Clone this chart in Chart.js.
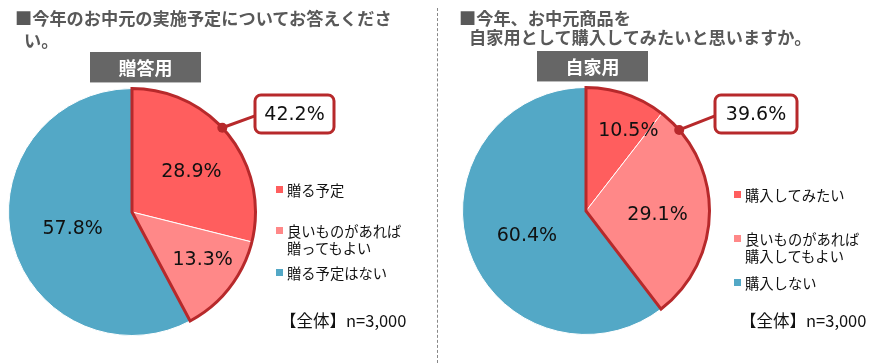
<!DOCTYPE html>
<html><head><meta charset="utf-8">
<script src="https://cdn.jsdelivr.net/npm/chart.js@4"></script>
<style>
html,body{margin:0;padding:0;background:#fff;}
#wrap{position:relative;width:876px;height:363px;overflow:hidden;font-family:"Noto Sans CJK JP",sans-serif;}
canvas{position:absolute;top:0;}
.t{position:absolute;white-space:nowrap;}
.title{font-weight:bold;font-size:17.2px;color:#595959;line-height:21px;}
.tag{position:absolute;background:#666;color:#fff;font-weight:bold;font-size:18px;text-align:center;line-height:30px;height:30px;box-shadow:0 1px 0 #bbb;}
.leg{position:absolute;font-size:14.3px;line-height:17px;color:#111;white-space:nowrap;}
.sq{position:absolute;width:7px;height:7px;}
.n{position:absolute;font-size:16.5px;color:#111;white-space:nowrap;line-height:20px;}
#div{position:absolute;left:437px;top:8px;height:355px;border-left:1.5px dashed #888;}
</style></head>
<body><div id="wrap">
<canvas id="c1" width="437" height="363" style="left:0"></canvas>
<canvas id="c2" width="439" height="363" style="left:437px"></canvas>
<div id="div"></div>
<div class="t title" style="left:15px;top:7px">■今年のお中元の実施予定についてお答えくださ</div>
<div class="t title" style="left:24px;top:29px">い。</div>
<div class="t title" style="left:459px;top:7px">■今年、お中元商品を</div>
<div class="t title" style="left:469px;top:26px">自家用として購入してみたいと思いますか。</div>
<div class="tag" style="left:90px;top:52px;width:111px">贈答用</div>
<div class="tag" style="left:537px;top:51px;width:111px">自家用</div>
<div id="legends"></div>
<div class="n" style="left:280px;top:310px">【全体】n=3,000</div>
<div class="n" style="left:740px;top:310px">【全体】n=3,000</div>
</div>
<script>
// ---- data ----
const giftCategories = ["贈る予定", "良いものがあれば\n贈ってもよい", "贈る予定はない"];
const giftValues = [28.9, 13.3, 57.8];
const homeCategories = ["購入してみたい", "良いものがあれば\n購入してもよい", "購入しない"];
const homeValues = [10.5, 29.1, 60.4];
const sliceColors = ["#FF5E5E", "#FF8888", "#53A8C6"];
const outlineColor = "#B7292B";

// ---- legends (HTML) ----
function buildLegend(cats, x, ys) {
  const host = document.getElementById('legends');
  cats.forEach((c, i) => {
    const sq = document.createElement('div');
    sq.className = 'sq';
    sq.style.left = x + 'px';
    sq.style.top = (ys[i] + 5) + 'px';
    sq.style.background = sliceColors[i];
    host.appendChild(sq);
    const t = document.createElement('div');
    t.className = 'leg';
    t.style.left = (x + 11) + 'px';
    t.style.top = ys[i] + 'px';
    t.innerHTML = c.split('\n').join('<br>');
    host.appendChild(t);
  });
}
buildLegend(giftCategories, 276, [181, 222, 264]);
buildLegend(homeCategories, 734, [186, 230, 274]);

// ---- plugin: group outline, slice labels, callout ----
const pieDecor = {
  id: 'pieDecor',
  afterDatasetsDraw(chart, args, opts) {
    const ctx = chart.ctx;
    const meta = chart.getDatasetMeta(0);
    const vals = chart.data.datasets[0].data;
    const arcs = meta.data.map(a => a.getProps(['x', 'y', 'startAngle', 'endAngle', 'outerRadius'], true));
    const cx = arcs[0].x, cy = arcs[0].y, R = arcs[0].outerRadius;
    ctx.save();
    ctx.beginPath();
    ctx.moveTo(cx, cy);
    ctx.arc(cx, cy, R, arcs[0].startAngle, arcs[1].endAngle);
    ctx.closePath();
    ctx.lineWidth = 3;
    ctx.lineJoin = 'miter';
    ctx.strokeStyle = outlineColor;
    ctx.stroke();
    ctx.fillStyle = '#111';
    ctx.font = '19px "DejaVu Sans", sans-serif';
    ctx.textAlign = 'center';
    ctx.textBaseline = 'middle';
    arcs.forEach((a, i) => {
      const p = opts.labels[i];
      const ang = (p.deg - 90) * Math.PI / 180;
      ctx.fillText(vals[i].toFixed(1) + '%', cx + Math.cos(ang) * R * p.r, cy + Math.sin(ang) * R * p.r);
    });
    const dAng = (opts.dotDeg - 90) * Math.PI / 180;
    const dx = cx + Math.cos(dAng) * R, dy = cy + Math.sin(dAng) * R;
    const b = opts.box;
    ctx.beginPath();
    ctx.moveTo(dx, dy);
    ctx.lineTo(b.x, b.y + b.h * 0.55);
    ctx.lineWidth = 3;
    ctx.stroke();
    ctx.beginPath();
    ctx.arc(dx, dy, 5, 0, Math.PI * 2);
    ctx.fillStyle = outlineColor;
    ctx.fill();
    ctx.beginPath();
    ctx.roundRect(b.x, b.y, b.w, b.h, 6);
    ctx.fillStyle = '#fff';
    ctx.fill();
    ctx.lineWidth = 3;
    ctx.stroke();
    ctx.fillStyle = '#111';
    ctx.font = '19px "DejaVu Sans", sans-serif';
    ctx.fillText((vals[0] + vals[1]).toFixed(1) + '%', b.x + b.w / 2, b.y + b.h / 2 + 1);
    ctx.restore();
  }
};

function makePie(id, values, padding, decor) {
  return new Chart(document.getElementById(id), {
    type: 'pie',
    data: {
      labels: values.map((v, i) => i),
      datasets: [{
        data: values,
        backgroundColor: sliceColors,
        borderColor: '#fff',
        borderWidth: 1,
        hoverOffset: 0
      }]
    },
    options: {
      responsive: false,
      animation: false,
      devicePixelRatio: 1,
      layout: { padding: padding },
      plugins: {
        legend: { display: false },
        tooltip: { enabled: false },
        pieDecor: decor
      },
      events: []
    },
    plugins: [pieDecor]
  });
}

makePie('c1', giftValues, { left: 8, right: 181, top: 88, bottom: 27 }, {
  labels: [{ deg: 56, r: 0.58 }, { deg: 124, r: 0.69 }, { deg: 254, r: 0.5 }],
  dotDeg: 47,
  box: { x: 255, y: 95, w: 79, h: 38 }
});
makePie('c2', homeValues, { left: 25, right: 166, top: 87, bottom: 28 }, {
  labels: [{ deg: 28, r: 0.73 }, { deg: 93, r: 0.58 }, { deg: 247, r: 0.52 }],
  dotDeg: 49,
  box: { x: 278, y: 95, w: 82, h: 38 }
});
</script>
</body></html>
